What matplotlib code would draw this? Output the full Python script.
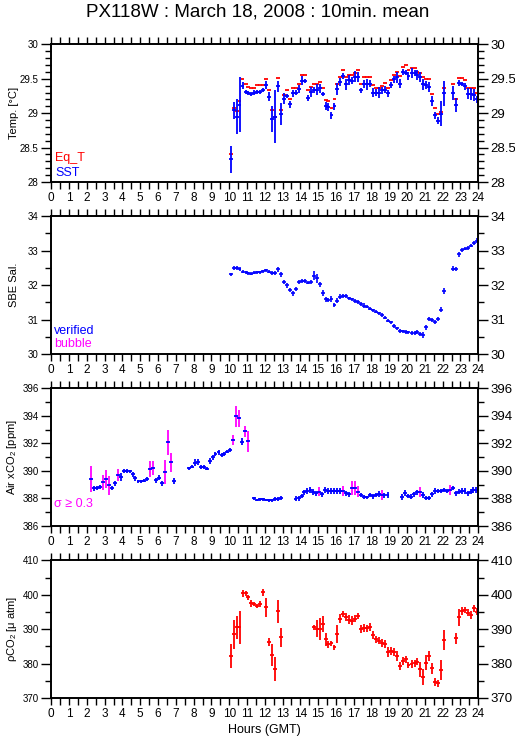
import numpy as np
import matplotlib
matplotlib.use("Agg")
import matplotlib.pyplot as plt
from matplotlib.ticker import MultipleLocator, FuncFormatter

plt.rcParams['font.family'] = ['Liberation Sans', 'DejaVu Sans']
plt.rcParams['mathtext.fontset'] = 'custom'
plt.rcParams['mathtext.rm'] = 'Liberation Sans'
plt.rcParams['mathtext.it'] = 'Liberation Sans:italic'

# 10-min means, hours GMT. temperature / salinity share the same stamps
hours_ts = [10.08, 10.25, 10.42, 10.58, 10.75, 10.92, 11.08, 11.25, 11.42, 11.58, 11.75, 11.92,
            12.08, 12.25, 12.42, 12.58, 12.75, 12.92, 13.08, 13.25, 13.42, 13.58, 13.75, 13.92,
            14.08, 14.25, 14.42, 14.58, 14.75, 14.92, 15.08, 15.25, 15.42, 15.58, 15.75, 15.92,
            16.08, 16.25, 16.42, 16.58, 16.75, 16.92, 17.08, 17.25, 17.42, 17.58, 17.75, 17.92,
            18.08, 18.25, 18.42, 18.58, 18.75, 18.92, 19.08, 19.25, 19.42, 19.58, 19.75, 19.92,
            20.08, 20.25, 20.42, 20.58, 20.75, 20.92, 21.08, 21.25, 21.42, 21.58, 21.75, 21.92,
            22.08, 22.58, 22.75, 22.92, 23.08, 23.25, 23.42, 23.58, 23.75, 23.92]

sst = [28.33, 29.04, 28.95, 29.12, 29.40, 29.31, 29.29, 29.28, 29.30, 29.31,
       29.31, 29.34, 29.41, 29.24, 28.92, 28.95, 29.39, 28.99, 29.21, 29.25,
       29.13, 29.29, 29.30, 29.35, 29.47, 29.47, 29.22, 29.31, 29.34, 29.34,
       29.36, 29.28, 29.10, 29.09, 28.97, 29.10, 29.35, 29.45, 29.54, 29.42,
       29.48, 29.47, 29.53, 29.53, 29.33, 29.42, 29.42, 29.43, 29.30, 29.30,
       29.30, 29.33, 29.34, 29.29, 29.41, 29.49, 29.52, 29.43, 29.60, 29.59,
       29.54, 29.58, 29.58, 29.55, 29.53, 29.42, 29.41, 29.38, 29.18, 28.97,
       28.89, 28.99, 29.29, 29.29, 29.12, 29.44, 29.43, 29.39, 29.28, 29.28,
       29.26, 29.20]
sst_err = [0.20, 0.12, 0.25, 0.40, 0.05, 0.03, 0.03, 0.03, 0.03, 0.03,
           0.03, 0.03, 0.055, 0.07, 0.19, 0.38, 0.08, 0.16, 0.08, 0.03,
           0.05, 0.05, 0.03, 0.06, 0.065, 0.03, 0.05, 0.07, 0.04, 0.08,
           0.07, 0.03, 0.06, 0.06, 0.05, 0.05, 0.09, 0.06, 0.05, 0.08,
           0.07, 0.05, 0.08, 0.07, 0.04, 0.06, 0.08, 0.05, 0.06, 0.05,
           0.08, 0.05, 0.05, 0.05, 0.05, 0.05, 0.08, 0.06, 0.04, 0.03,
           0.06, 0.07, 0.04, 0.07, 0.07, 0.08, 0.06, 0.07, 0.07, 0.05,
           0.05, 0.18, 0.18, 0.10, 0.10, 0.04, 0.03, 0.05, 0.08, 0.09,
           0.09, 0.05]
eq_t = [28.40, 29.08, 29.03, 29.17, 29.49, 29.42, 29.38, 29.37, 29.37, 29.41,
        29.41, 29.41, 29.49, 29.33, 29.05, 28.95, 29.51, 29.05, 29.27, 29.33,
        29.20, 29.37, 29.37, 29.43, 29.56, 29.56, 29.33, 29.38, 29.43, 29.43,
        29.45, 29.37, 29.19, 29.18, 29.07, 29.20, 29.42, 29.53, 29.62, 29.52,
        29.56, 29.56, 29.59, 29.63, 29.43, 29.52, 29.52, 29.53, 29.41, 29.37,
        29.37, 29.39, 29.44, 29.36, 29.48, 29.56, 29.60, 29.54, 29.67, 29.70,
        29.62, 29.66, 29.65, 29.60, 29.59, 29.53, 29.49, 29.49, 29.28, 29.07,
        28.99, 29.02, 29.37, 29.42, 29.21, 29.51, 29.51, 29.48, 29.37, 29.36,
        29.37, 29.29]

sal = [32.31, 32.49, 32.49, 32.46, 32.39, 32.37, 32.34, 32.33, 32.36, 32.37,
       32.37, 32.40, 32.43, 32.39, 32.36, 32.34, 32.46, 32.31, 32.10, 31.99,
       31.86, 31.76, 31.89, 32.10, 32.13, 32.12, 32.07, 32.09, 32.27, 32.20,
       32.03, 31.78, 31.59, 31.57, 31.61, 31.43, 31.55, 31.67, 31.69, 31.69,
       31.62, 31.59, 31.54, 31.51, 31.45, 31.41, 31.38, 31.32, 31.27, 31.23,
       31.18, 31.13, 31.06, 30.97, 30.92, 30.82, 30.75, 30.67, 30.66, 30.65,
       30.63, 30.62, 30.62, 30.65, 30.58, 30.56, 30.78, 31.01, 30.99, 30.94,
       31.03, 31.29, 31.84, 32.48, 32.46, 32.89, 33.01, 33.06, 33.07, 33.14,
       33.22, 33.29]
sal_err = [0.05, 0.06, 0.06, 0.06, 0.05, 0.05, 0.05, 0.05, 0.05, 0.05,
           0.05, 0.05, 0.05, 0.05, 0.06, 0.06, 0.07, 0.06, 0.06, 0.07,
           0.07, 0.06, 0.07, 0.06, 0.06, 0.05, 0.05, 0.06, 0.13, 0.13,
           0.07, 0.09, 0.08, 0.06, 0.09, 0.05, 0.08, 0.06, 0.05, 0.05,
           0.05, 0.05, 0.05, 0.05, 0.05, 0.06, 0.05, 0.05, 0.05, 0.05,
           0.05, 0.05, 0.05, 0.05, 0.05, 0.06, 0.05, 0.05, 0.05, 0.05,
           0.05, 0.05, 0.05, 0.05, 0.06, 0.08, 0.08, 0.06, 0.06, 0.05,
           0.06, 0.08, 0.09, 0.06, 0.06, 0.08, 0.06, 0.05, 0.05, 0.05,
           0.05, 0.06]

# atmospheric xCO2 (separate sampling times)
hours_air = [2.23, 2.40, 2.57, 2.73, 2.90, 3.07, 3.23, 3.40, 3.57, 3.73, 3.90, 4.07, 4.23,
             4.40, 4.57, 4.73, 4.90, 5.07, 5.23, 5.40, 5.57, 5.73, 5.90, 6.07, 6.23, 6.40,
             6.57, 6.73, 6.90,
             7.73, 7.90, 8.07, 8.23, 8.40, 8.57, 8.73, 8.90, 9.07, 9.23, 9.40, 9.57, 9.73,
             9.90, 10.07, 10.23, 10.40, 10.57, 10.73, 10.90, 11.07,
             11.40, 11.57, 11.73, 11.90, 12.07, 12.23, 12.40, 12.57, 12.73, 12.90,
             13.73, 13.90, 14.07, 14.23, 14.40, 14.57, 14.73, 14.90, 15.07, 15.23, 15.40,
             15.57, 15.73, 15.90, 16.07, 16.23, 16.40, 16.57, 16.73, 16.90, 17.07, 17.23,
             17.40, 17.57, 17.73, 17.90, 18.07, 18.23, 18.40, 18.57, 18.73, 18.90,
             19.73, 19.90, 20.07, 20.23, 20.40, 20.57, 20.73, 20.90, 21.07, 21.23, 21.40,
             21.57, 21.73, 21.90, 22.07, 22.23, 22.40, 22.57, 22.73, 22.90, 23.07, 23.23,
             23.40, 23.57, 23.73, 23.90]
air = [389.41, 388.74, 388.76, 388.81, 389.17, 389.41, 388.95, 388.74, 389.10, 389.70,
       389.58, 390.02, 390.00, 389.97, 389.75, 389.46, 389.24, 389.24, 389.29, 389.39,
       390.14, 390.19, 389.34, 389.51, 389.10, 389.90, 392.08, 390.62, 389.27,
       390.19, 390.31, 390.60, 390.65, 390.31, 390.26, 390.16, 390.72, 390.99, 391.23,
       391.35, 391.16, 391.23, 391.40, 391.52, 392.22, 393.97, 393.82, 392.13, 392.90,
       392.15,
       388.01, 387.89, 387.94, 387.94, 387.89, 387.86, 387.86, 387.94, 387.96, 388.05,
       387.99, 388.01, 388.18, 388.45, 388.54, 388.62, 388.45, 388.37, 388.49, 388.32,
       388.62, 388.54, 388.54, 388.54, 388.54, 388.54, 388.54, 388.37, 388.30, 388.74,
       388.74, 388.49, 388.25, 388.08, 388.08, 388.25, 388.15, 388.28, 388.32, 388.25,
       388.23, 388.25,
       388.13, 388.37, 388.18, 388.13, 388.30, 388.45, 388.45, 388.25, 388.01, 388.01,
       388.32, 388.54, 388.54, 388.54, 388.62, 388.57, 388.62, 388.79, 388.37, 388.49,
       388.54, 388.54, 388.37, 388.49, 388.62, 388.62]
air_err = [0.97, 0.18, 0.15, 0.15, 0.55, 0.67, 0.67, 0.15, 0.18, 0.45,
           0.28, 0.15, 0.12, 0.12, 0.18, 0.20, 0.12, 0.12, 0.12, 0.15,
           0.60, 0.50, 0.18, 0.20, 0.20, 0.87, 0.90, 0.70, 0.22,
           0.12, 0.12, 0.24, 0.20, 0.15, 0.15, 0.12, 0.20, 0.20, 0.15,
           0.18, 0.12, 0.12, 0.12, 0.12, 0.36, 0.75, 0.60, 0.24, 0.40,
           0.75,
           0.10, 0.10, 0.10, 0.10, 0.10, 0.12, 0.12, 0.15, 0.15, 0.15,
           0.20, 0.18, 0.18, 0.20, 0.22, 0.25, 0.22, 0.20, 0.32, 0.18,
           0.25, 0.22, 0.22, 0.22, 0.22, 0.22, 0.35, 0.20, 0.20, 0.50,
           0.50, 0.40, 0.15, 0.15, 0.12, 0.15, 0.18, 0.15, 0.20, 0.35,
           0.18, 0.20,
           0.22, 0.22, 0.18, 0.18, 0.18, 0.20, 0.35, 0.20, 0.15, 0.15,
           0.18, 0.20, 0.15, 0.15, 0.15, 0.15, 0.35, 0.15, 0.20, 0.20,
           0.20, 0.20, 0.20, 0.20, 0.20, 0.20]

# seawater pCO2
hours_pco2 = [10.08, 10.25, 10.42, 10.58, 10.75, 10.92, 11.08, 11.25, 11.42, 11.58, 11.75,
              11.92, 12.08, 12.25, 12.42, 12.58, 12.75, 12.92,
              14.75, 14.92, 15.08, 15.25, 15.42, 15.58, 15.75, 15.92, 16.08, 16.25, 16.42,
              16.58, 16.75, 16.92, 17.08, 17.25, 17.42, 17.58, 17.75, 17.92, 18.08, 18.25,
              18.42, 18.58, 18.75, 18.92, 19.08, 19.25, 19.42, 19.58, 19.75, 19.92, 20.08,
              20.25, 20.42, 20.58, 20.75, 20.92, 21.08, 21.25, 21.42, 21.58, 21.75, 21.92,
              22.08,
              22.75, 22.92, 23.08, 23.25, 23.42, 23.58, 23.75, 23.92]
pco2 = [382.2, 388.5, 390.5, 390.5, 400.4, 400.4, 399.2, 397.5, 397.2, 396.7, 397.3,
        400.7, 396.3, 386.2, 382.5, 378.4, 395.2, 387.6,
        390.5, 390.1, 390.0, 391.5, 387.0, 385.6, 385.9, 384.7, 388.6, 393.0, 394.4,
        393.6, 392.7, 392.4, 393.0, 393.8, 390.0, 390.4, 390.2, 390.7, 388.3, 387.0,
        386.7, 385.9, 385.7, 383.3, 383.7, 383.3, 382.2, 379.3, 380.8, 381.2, 379.6,
        379.8, 380.1, 380.6, 378.4, 376.0, 380.3, 382.2, 378.6, 374.7, 374.3, 378.1,
        386.9,
        387.3, 393.4, 395.3, 395.6, 394.8, 394.1, 396.1, 395.1]
pco2_err = [3.5, 4.2, 3.4, 4.7, 1.0, 0.8, 0.6, 1.0, 0.6, 0.6, 0.9,
            1.0, 2.7, 1.2, 3.3, 3.6, 3.3, 2.7,
            0.8, 2.5, 3.2, 2.2, 2.0, 1.0, 0.8, 0.7, 2.7, 1.3, 0.8,
            1.1, 1.3, 1.3, 1.0, 0.9, 1.2, 1.1, 1.1, 1.2, 1.1, 1.1,
            1.0, 1.1, 1.1, 1.4, 1.1, 1.1, 1.5, 1.2, 1.2, 0.9, 1.0,
            1.1, 1.0, 1.1, 2.2, 2.3, 2.2, 1.5, 1.6, 1.1, 1.0, 2.8,
            2.9,
            1.7, 2.4, 1.1, 0.9, 1.0, 1.2, 1.0, 1.0]

BLUE = '#0000ff'
RED = '#ff0000'
MAG = '#ff00ff'
HALF = 0.11  # half width of the 10-min bar, hours


def cross(ax, t, v, e, hcol, vcol, lw=1.3):
    t = np.asarray(t)
    v = np.asarray(v)
    e = np.asarray(e)
    ax.vlines(t, v - e, v + e, colors=vcol, lw=lw)
    ax.hlines(v, t - HALF, t + HALF, colors=hcol, lw=lw)


def setup(ax, lo, hi, minor, major, label):
    fmt = FuncFormatter(lambda x, p: "{:g}".format(x))
    ax.set_xlim(0, 24)
    ax.set_ylim(lo, hi)
    ax.xaxis.set_major_locator(MultipleLocator(1))
    ax.xaxis.set_minor_locator(MultipleLocator(0.5))
    ax.yaxis.set_major_locator(MultipleLocator(major))
    ax.yaxis.set_minor_locator(MultipleLocator(minor))
    ax.yaxis.set_major_formatter(fmt)
    ax.tick_params(which='both', direction='out', top=True, width=1)
    ax.tick_params(axis='x', which='both', length=5, labelsize=8.5, pad=2)
    ax.tick_params(axis='y', which='major', length=7, labelsize=7, pad=2)
    ax.tick_params(axis='y', which='minor', length=4)
    for s in ax.spines.values():
        s.set_linewidth(1.2)
    ax.set_ylabel(label, fontsize=8)
    ax.yaxis.set_label_coords(-0.075, 0.5)

    ax2 = ax.twinx()
    ax2.set_ylim(lo, hi)
    ax2.yaxis.set_major_locator(MultipleLocator(major))
    ax2.yaxis.set_minor_locator(MultipleLocator(minor))
    ax2.yaxis.set_major_formatter(fmt)
    ax2.tick_params(axis='y', which='major', direction='out', length=7, width=1,
                    labelsize=9.5, pad=2)
    ax2.tick_params(axis='y', which='minor', direction='out', length=4, width=1)
    for s in ax2.spines.values():
        s.set_linewidth(1.2)


fig = plt.figure(figsize=(5.15, 7.39), dpi=100)
L, W, H = 0.0996, 0.829, 0.1863
ax1 = fig.add_axes([L, 0.7537, W, H])
ax2 = fig.add_axes([L, 0.5206, W, 0.1871])
ax3 = fig.add_axes([L, 0.2882, W, H])
ax4 = fig.add_axes([L, 0.0555, W, H])

fig.text(0.5, 0.9844, "PX118W : March 18, 2008 : 10min. mean", ha='center', va='center',
         fontsize=13.5)

# temperature
setup(ax1, 28, 30, 0.1, 0.5, "Temp. [°C]")
t = np.asarray(hours_ts)
ax1.hlines(eq_t, t - HALF, t + HALF, colors=RED, lw=1.3)
cross(ax1, hours_ts, sst, sst_err, BLUE, BLUE)
ax1.text(0.009, 0.174, "Eq_T", color=RED, fontsize=9, transform=ax1.transAxes, va='center')
ax1.text(0.009, 0.069, "SST", color=BLUE, fontsize=9, transform=ax1.transAxes, va='center')

# salinity
setup(ax2, 30, 34, 0.5, 1, "SBE Sal.")
cross(ax2, hours_ts, sal, sal_err, BLUE, BLUE, lw=1.2)
ax2.text(0.007, 0.168, "verified", color=BLUE, fontsize=9, transform=ax2.transAxes, va='center')
ax2.text(0.007, 0.071, "bubble", color=MAG, fontsize=9, transform=ax2.transAxes, va='center')

# air xCO2, vertical bar in magenta when sigma >= 0.3
setup(ax3, 386, 396, 1, 2, "Air xCO$_2$ [ppm]")
vcols = [MAG if e >= 0.3 else BLUE for e in air_err]
cross(ax3, hours_air, air, air_err, BLUE, vcols, lw=1.3)
ax3.text(0.007, 0.16, "σ ≥ 0.3", color=MAG, fontsize=9, transform=ax3.transAxes, va='center')

# pCO2
setup(ax4, 370, 410, 5, 10, "ρCO$_2$ [μ atm]")
cross(ax4, hours_pco2, pco2, pco2_err, RED, RED, lw=1.3)
ax4.set_xlabel("Hours (GMT)", fontsize=9, labelpad=3)

fig.savefig("out.png", dpi=100)
